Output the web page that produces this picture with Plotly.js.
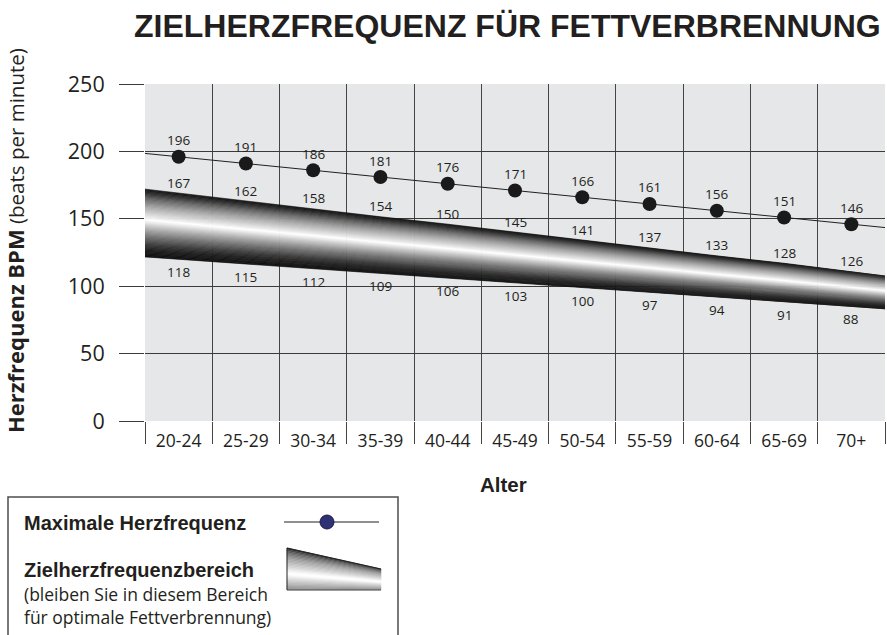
<!DOCTYPE html>
<html><head><meta charset="utf-8">
<script src="https://cdn.plot.ly/plotly-3.0.1.min.js"></script>
<style>html,body{margin:0;padding:0;background:#fff}#chart{width:887px;height:635px}</style>
</head><body><div id="chart"></div>
<script>
// ---- data ----
const categories = ['20-24','25-29','30-34','35-39','40-44','45-49','50-54','55-59','60-64','65-69','70+'];
const maxHR = [196,191,186,181,176,171,166,161,156,151,146];
const targetUpper = [167,162,158,154,150,145,141,137,133,128,126];
const targetLower = [118,115,112,109,106,103,100,97,94,91,88];
const bandTop = [169,163,157.5,151.5,146,140,134,128.5,122.5,117,111];
const bandBottom = [120,116.5,113,109.5,106,102.5,99,95.5,92,88.5,85];
const yTicks = [0,50,100,150,200,250];

// ---- geometry helpers ----
const W=887,H=635,L=145,R=2,T=84,B=214;
const PW=W-L-R, PH=H-T-B;
const px=x=>(x-L)/PW, py=y=>(T+PH-y)/PH;

const n = categories.length;
const idx = categories.map((_,i)=>i);
const xsExt = [-0.5, ...idx, n-0.5];
const ext = a => [a[0]+(a[0]-a[1])/2, ...a, a[n-1]+(a[n-1]-a[n-2])/2];
const topExt = ext(bandTop), botExt = ext(bandBottom), maxExt = ext(maxHR);
const boundaries = [...idx.map(i=>i-0.5), n-0.5];

function interp(stops, t){
  for(let i=1;i<stops.length;i++){
    if(t<=stops[i][0]){
      const [t0,v0]=stops[i-1],[t1,v1]=stops[i];
      return v0+(v1-v0)*(t-t0)/(t1-t0);
    }
  }
  return stops[stops.length-1][1];
}
const gray = v => {const c=Math.round(v);return `rgb(${c},${c},${c})`;};

const bandStops = [[0,15],[0.06,45],[0.15,105],[0.25,160],[0.34,200],[0.41,232],[0.455,255],[0.5,232],[0.56,195],[0.64,150],[0.73,105],[0.82,62],[0.9,32],[1,15]];

const traces = [];
const N = 56;
for(let k=0;k<N;k++){
  const t0=k/N, t1=(k+1)/N, c=gray(interp(bandStops,(t0+t1)/2));
  const up = topExt.map((v,i)=>v+t0*(botExt[i]-v));
  const lo = topExt.map((v,i)=>v+t1*(botExt[i]-v));
  traces.push({x:[...xsExt, ...xsExt.slice().reverse()], y:[...up, ...lo.slice().reverse()],
    type:'scatter', mode:'lines', fill:'toself', fillcolor:c, line:{color:c,width:0.7},
    hoverinfo:'skip', showlegend:false});
}
traces.push({x:xsExt, y:maxExt, type:'scatter', mode:'lines', line:{color:'#231f20',width:1}, hoverinfo:'skip', showlegend:false});
traces.push({x:idx, y:maxHR, type:'scatter', mode:'markers', marker:{size:14,color:'#1a1a1a'}, showlegend:false});

const lblFont = {family:'Open Sans',size:13.5,color:'#231f20'};
const dataAnn = [];
idx.forEach(i=>{
  dataAnn.push({xref:'x', yref:'y', x:i, y:maxHR[i], text:String(maxHR[i]), showarrow:false, yshift:16.5, font:lblFont});
  dataAnn.push({xref:'x', yref:'y', x:i, y:bandTop[i], text:String(targetUpper[i]), showarrow:false, yshift:10.5, font:lblFont});
  dataAnn.push({xref:'x', yref:'y', x:i, y:bandBottom[i], text:String(targetLower[i]), showarrow:false, yshift:-13, font:lblFont});
});

// ---- legend (shapes + annotations) ----
const shapes = [];
shapes.push({type:'rect', xref:'paper', yref:'paper', x0:px(8), x1:px(398), y0:py(497), y1:py(660), line:{color:'#4d4d4d',width:1.5}, fillcolor:'rgba(0,0,0,0)'});
shapes.push({type:'line', xref:'paper', yref:'paper', x0:px(284), x1:px(379), y0:py(522), y1:py(522), line:{color:'#231f20',width:1}});
shapes.push({type:'circle', xref:'paper', yref:'paper', x0:px(320), x1:px(334), y0:py(515), y1:py(529), fillcolor:'#2e3173', line:{color:'#1c1d4a',width:1}});
const legStops = [[0,35],[0.1,100],[0.25,160],[0.45,212],[0.58,250],[0.64,255],[0.72,228],[0.86,185],[1,140]];
const lx0=287, lx1=381, lyl=548, lyr=569, lyb=590, LN=28;
for(let k=0;k<LN;k++){
  const t0=k/LN, t1=(k+1)/LN, c=gray(interp(legStops,(t0+t1)/2));
  const a=lyl+t0*(lyb-lyl), b=lyr+t0*(lyb-lyr), cc=lyl+t1*(lyb-lyl), d=lyr+t1*(lyb-lyr);
  shapes.push({type:'path', xref:'paper', yref:'paper',
    path:`M ${px(lx0)},${py(a)} L ${px(lx1)},${py(b)} L ${px(lx1)},${py(d)} L ${px(lx0)},${py(cc)} Z`,
    fillcolor:c, line:{color:c,width:0.5}});
}
shapes.push({type:'path', xref:'paper', yref:'paper',
  path:`M ${px(lx0)},${py(lyb)} L ${px(lx0)},${py(lyl)} L ${px(lx1)},${py(lyr)}`,
  line:{color:'#222',width:1}});
shapes.push({type:'line', xref:'paper', yref:'paper', x0:px(lx0), x1:px(lx1), y0:py(lyb), y1:py(lyb), line:{color:'#555',width:1}});

const ann = (text,x,y,font,extra={}) => Object.assign({text, xref:'paper', yref:'paper', x:px(x), y:py(y), showarrow:false,
  xanchor:'left', yanchor:'middle', font}, extra);
const boldF = s => ({family:'Liberation Sans, Arial', size:s, color:'#231f20'});
const normF = s => ({family:'Open Sans', size:s, color:'#231f20'});

const annotations = [
  ann('<b>ZIELHERZFREQUENZ FÜR FETTVERBRENNUNG</b>', 883, 26, boldF(32), {xanchor:'right'}),
  ann('<b>Alter</b>', 503, 485, boldF(20.5), {xanchor:'center'}),
  ann('<b style="font-size:22px">Herzfrequenz BPM</b> (beats per minute)', 15, 241, normF(20.5), {xanchor:'center', textangle:-90}),
  ann('<b>Maximale Herzfrequenz</b>', 22, 523, boldF(20)),
  ann('<b>Zielherzfrequenzbereich</b>', 22, 570, boldF(20)),
  ann('(bleiben Sie in diesem Bereich', 22, 594, normF(17.5)),
  ann('für optimale Fettverbrennung)', 22, 617, normF(17.5)),
  ...dataAnn
];

const layout = {
  width:W, height:H, margin:{l:L,r:R,t:T,b:B}, paper_bgcolor:'#ffffff', plot_bgcolor:'#e6e7e8',
  showlegend:false, hovermode:false,
  xaxis:{range:[-0.5,n-0.5], tickmode:'array', tickvals:idx, ticktext:categories, ticks:'', showgrid:false,
    zeroline:false, showline:false, tickfont:{family:'Open Sans',size:17.5,color:'#231f20'}, ticklabelstandoff:7,
    minor:{tickmode:'array', tickvals:boundaries, ticks:'outside', ticklen:22, tickcolor:'#444', tickwidth:1,
      showgrid:true, gridcolor:'#444', gridwidth:1}, fixedrange:true},
  yaxis:{range:[0,250], tickmode:'array', tickvals:yTicks, ticks:'outside', ticklen:25, tickcolor:'#3a3a3a', tickwidth:1,
    showgrid:true, gridcolor:'#3a3a3a', gridwidth:1, zeroline:false, showline:false,
    tickfont:{family:'Open Sans',size:21.5,color:'#231f20'}, ticklabelstandoff:10, fixedrange:true},
  shapes, annotations
};
Plotly.newPlot('chart', traces, layout, {displayModeBar:false, staticPlot:true});
</script>
</body></html>
